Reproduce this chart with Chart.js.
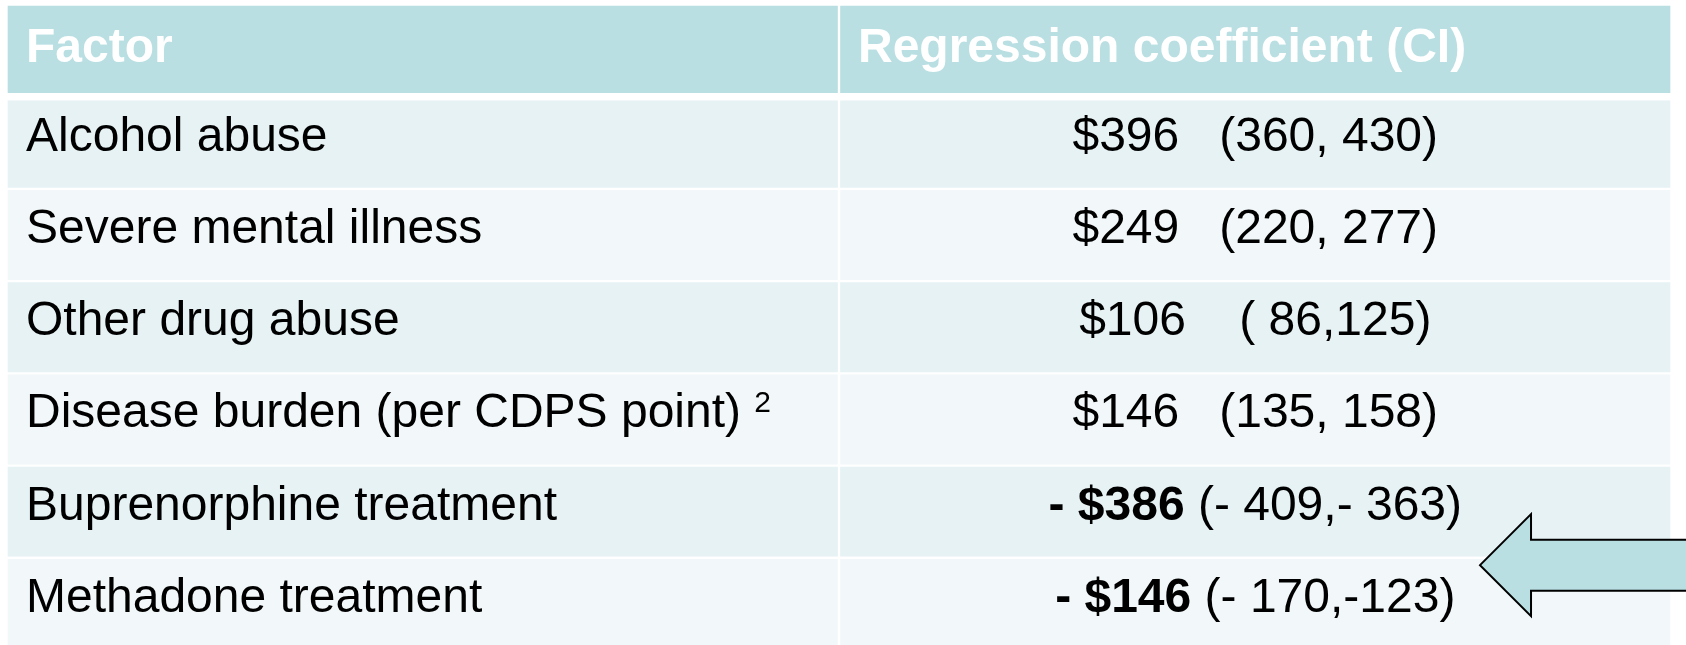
<!DOCTYPE html>
<html>
<head>
<meta charset="utf-8">
<script src="https://cdn.jsdelivr.net/npm/chart.js@4.4.1/dist/chart.umd.min.js"></script>
<style>
  html, body { margin: 0; padding: 0; background: #ffffff; overflow: hidden; }
  #wrap { position: relative; width: 1686px; height: 652px; }
</style>
</head>
<body>
<div id="wrap"><canvas id="tableChart"></canvas></div>
<script>
const headers = ['Factor', 'Regression coefficient (CI)'];
const factors = [
  'Alcohol abuse',
  'Severe mental illness',
  'Other drug abuse',
  'Disease burden (per CDPS point)',
  'Buprenorphine treatment',
  'Methadone treatment'
];
const footnotes = ['', '', '', '2', '', ''];
const coefLabels = ['$396', '$249', '$106', '$146', '- $386', '- $146'];
const ciLabels = ['   (360, 430)', '   (220, 277)', '    ( 86,125)', '   (135, 158)', ' (- 409,- 363)', ' (- 170,-123)'];
const coefBold = [false, false, false, false, true, true];

const FONT = '"Liberation Sans", Arial, Helvetica, sans-serif';
const headerColor = '#b9dfe3';
const oddColor = '#e6f2f4';
const evenColor = '#f2f8fa';

const rowLabels = ['header'].concat(factors);

function cellColor(ctx) {
  const i = ctx.dataIndex;
  if (i === 0) return headerColor;
  return i % 2 === 1 ? oddColor : evenColor;
}

function cellBorder(ctx) {
  const i = ctx.dataIndex;
  return {
    top: i === 1 ? 4 : 1.5,
    bottom: i === 0 ? 4 : 1.5,
    left: 1.5,
    right: 1.5
  };
}

// text and arrow drawn on top of the cell bars
const tableText = {
  id: 'tableText',
  afterDatasetsDraw(chart) {
    const c = chart.ctx;
    const x = chart.scales.x;
    const y = chart.scales.y;
    c.save();
    c.textBaseline = 'alphabetic';

    // header
    c.fillStyle = '#ffffff';
    c.font = 'bold 48px ' + FONT;
    c.textAlign = 'left';
    const hy = y.getPixelForValue(0) + 11.5;
    c.fillText(headers[0], x.getPixelForValue(0) + 19.5, hy);
    c.fillText(headers[1], x.getPixelForValue(1) + 19, hy);

    // body rows
    c.fillStyle = '#000000';
    factors.forEach((f, i) => {
      const by = y.getPixelForValue(i + 1) + 8;
      c.font = '48px ' + FONT;
      c.textAlign = 'left';
      const fx = x.getPixelForValue(0) + 19.5;
      c.fillText(f, fx, by);
      if (footnotes[i]) {
        const w = c.measureText(f + ' ').width;
        c.font = '30px ' + FONT;
        c.fillText(footnotes[i], fx + w, by - 15);
      }

      const coefFont = (coefBold[i] ? 'bold ' : '') + '48px ' + FONT;
      c.font = coefFont;
      const w1 = c.measureText(coefLabels[i]).width;
      c.font = '48px ' + FONT;
      const w2 = c.measureText(ciLabels[i]).width;
      const start = x.getPixelForValue(1.5) - (w1 + w2) / 2;
      c.font = coefFont;
      c.fillText(coefLabels[i], start, by);
      c.font = '48px ' + FONT;
      c.fillText(ciLabels[i], start + w1, by);
    });

    // arrow pointing at the treatment rows
    const tx = x.getPixelForValue(1.77);
    const ty = y.getPixelForValue(5.58);
    const headLen = 51, headHalf = 51, shaftHalf = 25.5;
    const endX = chart.width + 5;
    c.beginPath();
    c.moveTo(tx, ty);
    c.lineTo(tx + headLen, ty - headHalf);
    c.lineTo(tx + headLen, ty - shaftHalf);
    c.lineTo(endX, ty - shaftHalf);
    c.lineTo(endX, ty + shaftHalf);
    c.lineTo(tx + headLen, ty + shaftHalf);
    c.lineTo(tx + headLen, ty + headHalf);
    c.closePath();
    c.fillStyle = headerColor;
    c.fill();
    c.lineWidth = 2;
    c.lineJoin = 'miter';
    c.strokeStyle = '#000000';
    c.stroke();
    c.restore();
  }
};

new Chart(document.getElementById('tableChart'), {
  type: 'bar',
  data: {
    labels: rowLabels,
    datasets: [
      {
        label: headers[0],
        data: rowLabels.map(() => [0, 1]),
        backgroundColor: cellColor,
        borderColor: '#ffffff',
        borderWidth: cellBorder,
        borderSkipped: false
      },
      {
        label: headers[1],
        data: rowLabels.map(() => [1, 2]),
        backgroundColor: cellColor,
        borderColor: '#ffffff',
        borderWidth: cellBorder,
        borderSkipped: false
      }
    ]
  },
  options: {
    indexAxis: 'y',
    responsive: true,
    maintainAspectRatio: false,
    animation: false,
    events: [],
    grouped: false,
    barPercentage: 1,
    categoryPercentage: 1,
    layout: { padding: { left: 6.5, right: 14.5, top: 4.5, bottom: 2 } },
    plugins: { legend: { display: false }, tooltip: { enabled: false } },
    scales: {
      x: { type: 'linear', min: 0, max: 2, display: false },
      y: { type: 'category', offset: true, display: false, grid: { display: false } }
    }
  },
  plugins: [tableText]
});
</script>
</body>
</html>
